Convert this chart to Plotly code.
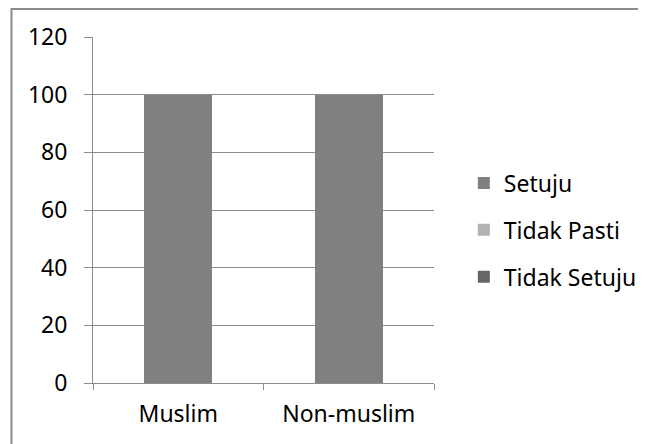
import plotly.graph_objects as go

categories = ["Muslim", "Non-muslim"]
series_names = ["Setuju", "Tidak Pasti", "Tidak Setuju"]
setuju = [100, 100]
tidak_pasti = [0, 0]
tidak_setuju = [0, 0]
series_values = [setuju, tidak_pasti, tidak_setuju]
series_colors = ["#808080", "#b2b2b2", "#666666"]
y_ticks = [0, 20, 40, 60, 80, 100, 120]

FONT = "Noto Sans"
FS = 23
OFF = 8  # page body margin offset

fig = go.Figure()
for name, vals, col in zip(series_names, series_values, series_colors):
    fig.add_trace(go.Bar(
        x=categories, y=vals, name=name, legendgroup=name,
        marker=dict(color=col, line=dict(width=0)),
    ))

W, H = 646, 444
# plot area in window coordinates
L, R, T, B = 93 - OFF, 436 - OFF, 37 - OFF, 383 - OFF
pw, ph = R - L, B - T

def px(x):
    return (x - OFF - L) / pw

def py(y):
    return (B - (y - OFF)) / ph

fig.update_layout(
    width=W, height=H,
    margin=dict(l=L, r=W - R, t=T, b=H - B, pad=0),
    paper_bgcolor="white", plot_bgcolor="white",
    barmode="stack", bargap=0.6,
    font=dict(family=FONT, size=FS, color="black"),
    showlegend=True,
    legend=dict(
        x=px(466), y=py(230), xanchor="left", yanchor="middle",
        traceorder="grouped", tracegroupgap=14,
        font=dict(family=FONT, size=FS, color="black"),
        itemwidth=30, bgcolor="rgba(0,0,0,0)",
    ),
    xaxis=dict(
        type="category", showgrid=False, showline=True,
        linecolor="#8c8c8c", linewidth=1,
        ticks="outside", ticklen=6, tickcolor="#8c8c8c",
        tickson="boundaries", tickfont=dict(size=FS),
        ticklabelstandoff=10,
    ),
    yaxis=dict(
        range=[0, 120], tickvals=y_ticks, showgrid=True,
        gridcolor="#8c8c8c", gridwidth=1, showline=True,
        linecolor="#8c8c8c", linewidth=1, zeroline=False,
        ticks="outside", ticklen=8, tickcolor="#8c8c8c",
        ticklabelstandoff=12, tickfont=dict(size=FS),
    ),
    shapes=[dict(
        type="rect", xref="paper", yref="paper",
        x0=px(11), x1=px(680), y0=py(480), y1=py(9),
        line=dict(color="#8c8c8c", width=2), layer="below",
    )],
)

fig.write_html("out.html")
